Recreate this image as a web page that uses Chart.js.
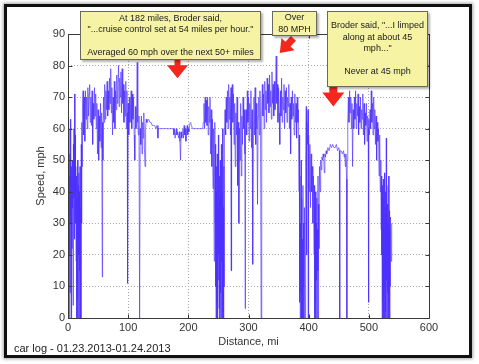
<!DOCTYPE html>
<html>
<head>
<meta charset="utf-8">
<title>car log</title>
<script src="https://cdn.jsdelivr.net/npm/chart.js@4.4.1/dist/chart.umd.min.js"></script>
<style>
  html, body { margin: 0; padding: 0; background: #fff; }
  body { width: 479px; height: 364px; position: relative; overflow: hidden; font-family: "Liberation Sans", Arial, sans-serif; }
  #frame { position: absolute; left: 4px; top: 4px; width: 462px; height: 348px; border: 3px solid #111; background: #fff; box-shadow: 0 0 3px 1px rgba(0,0,0,0.35); }
  #chart { position: absolute; left: 0; top: 0; }
  .note { position: absolute; box-sizing: border-box; background: #f6f4a4; border: 1px solid #6a6a5a; box-shadow: 2px 2px 2px rgba(0,0,0,0.3);
          font-size: 9px; line-height: 11.5px; color: #1a1a1a; text-align: center; white-space: nowrap;
          display: flex; align-items: center; justify-content: center; }
  #footer { position: absolute; left: 14px; top: 342px; font-size: 11px; line-height: 13px; color: #222; white-space: nowrap; }
</style>
</head>
<body>
<div id="frame"></div>
<canvas id="chart" width="479" height="364"></canvas>
<div class="note" style="left:80px; top:11px; width:181px; height:49px;">
  <div>At 182 miles, Broder said,<br>"...cruise control set at 54 miles per hour."<br>&nbsp;<br>Averaged 60 mph over the next 50+ miles</div>
</div>
<div class="note" style="left:272px; top:11px; width:45px; height:25px;">
  <div>Over<br>80 MPH</div>
</div>
<div class="note" style="left:327px; top:11px; width:101px; height:76px;">
  <div>Broder said, "...I limped<br>along at about 45<br>mph..."<br>&nbsp;<br>Never at 45 mph</div>
</div>
<div id="footer">car log - 01.23.2013-01.24.2013</div>

<script>
// distance (mi) and speed (mph)
const distanceMi = [
  0, 0.5, 1, 1.5, 2, 2.5, 3, 3.5, 4, 4.5,
  5, 5.5, 6, 6.5, 7, 7.5, 8, 8.5, 9, 9.5,
  10, 10.5, 11, 11.5, 12, 12.5, 13, 13.5, 14, 14.5,
  15, 15.5, 16, 16.5, 17, 17.5, 18, 18.5, 19, 19.5,
  20, 20.5, 21, 21.5, 22, 22.5, 23, 23.5, 24, 25,
  26, 27, 28, 29, 30, 31, 32, 33, 34, 35,
  36, 37, 38, 39, 40, 41, 42, 43, 44, 45,
  46, 47, 48, 49, 50, 51, 52, 53, 54, 55,
  56, 57, 57.5, 58, 59, 60, 61, 62, 63, 64,
  65, 66, 67, 68, 69, 70, 71, 72, 73, 74,
  75, 76, 77, 78, 79, 80, 81, 82, 83, 84,
  85, 86, 87, 88, 89, 90, 91, 92, 93, 94,
  95, 96, 97, 98, 98.5, 99, 100, 101, 102, 103,
  104, 105, 106, 107, 108, 109, 110, 111, 112, 113,
  114, 115, 116, 117, 118, 119, 120, 121, 122, 123,
  124, 125, 126, 127, 128, 129, 130, 131, 132, 133,
  134, 136, 138, 140, 142, 144, 146, 148, 149.5, 150,
  152, 155, 158, 161, 164, 167, 170, 173, 175, 176,
  177, 178, 180, 181, 182, 184, 185, 186, 187, 188,
  189, 190, 191, 192, 193, 194, 195, 196, 197, 198,
  199, 200, 201, 202, 203, 204, 205, 207, 210, 213,
  216, 219, 222, 224, 225, 226, 227, 228, 229, 230,
  231, 232, 233, 234, 235, 236, 237, 238, 239, 240,
  241, 242, 243, 244, 244.5, 245, 245.5, 246, 246.5, 247,
  247.5, 248, 248.5, 249, 249.5, 250, 250.5, 251, 251.5, 252,
  252.5, 253, 253.5, 254, 254.5, 255, 255.5, 256, 256.5, 257,
  257.5, 258, 258.5, 259, 259.5, 260, 261, 262, 263, 264,
  265, 266, 267, 268, 269, 270, 271, 271.5, 272, 273,
  274, 275, 276, 277, 278, 279, 280, 281, 282, 283,
  284, 285, 286, 287, 288, 289, 290, 291, 292, 293,
  294, 294.5, 295, 296, 297, 298, 299, 300, 301, 302,
  303, 304, 305, 306, 307, 308, 309, 310, 311, 312,
  313, 314, 315, 316, 317, 318, 319, 320, 321, 322,
  323, 324, 325, 326, 327, 328, 329, 330, 331, 332,
  333, 334, 335, 336, 337, 338, 339, 340, 341, 342,
  343, 344, 345, 346, 347, 348, 349, 350, 351, 352,
  353, 354, 355, 356, 357, 358, 359, 360, 361, 362,
  363, 364, 365, 366, 367, 368, 369, 370, 371, 372,
  373, 374, 375, 376, 377, 378, 379, 380, 381, 382,
  383, 384, 384.5, 385, 385.5, 386, 386.5, 387, 387.5, 388,
  388.5, 389, 389.5, 390, 390.5, 391, 391.5, 392, 393, 394,
  395, 396, 396.5, 397, 398, 399, 399.5, 400, 401, 402,
  403, 404, 405, 406, 407, 408, 409, 409.5, 410, 410.5,
  411, 411.5, 412, 412.5, 413, 413.5, 414, 414.5, 415, 415.5,
  416, 416.5, 417, 418, 419, 420, 421, 422, 423, 424,
  425, 426, 427, 428, 429, 430, 432, 434, 436, 438,
  440, 442, 444, 446, 448, 450, 451, 451.5, 452, 454,
  456, 458, 459, 460, 461, 462, 463, 463.5, 464, 465,
  466, 467, 468, 469, 470, 471, 472, 473, 474, 475,
  476, 477, 478, 479, 480, 481, 482, 483, 484, 485,
  486, 487, 488, 489, 490, 491, 492, 493, 494, 495,
  496, 497, 498, 499, 499.5, 500, 501, 502, 503, 504,
  505, 506, 507, 508, 509, 510, 511, 512, 513, 514,
  515, 516, 517, 518, 519, 520, 520.5, 521, 521.5, 522,
  522.5, 523, 523.5, 524, 524.5, 525, 525.5, 526, 526.5, 527,
  527.5, 528, 528.5, 529, 529.5, 530, 530.5, 531, 531.5, 532,
  532.5, 533, 533.5, 534, 534.5, 535, 535.5, 536, 537, 538
];
const speedMph = [
  68, 2, 60, 0, 45, 20, 52, 8, 63, 30,
  48, 0, 45, 22, 50, 35, 44, 4, 55, 38,
  60, 25, 71, 40, 58, 30, 48, 18, 45, 0,
  38, 6, 50, 0, 42, 20, 46, 0, 40, 15,
  48, 0, 35, 0, 55, 30, 62, 48, 66, 72,
  58, 70, 56, 72, 63, 70, 60, 73, 64, 71,
  74, 62, 70, 61, 72, 55, 68, 63, 73, 64,
  71, 60, 68, 52, 66, 50, 64, 56, 68, 54,
  65, 13, 62, 50, 70, 62, 74, 63, 72, 66,
  75, 64, 72, 66, 76, 68, 79, 65, 73, 58,
  70, 62, 75, 60, 72, 66, 77, 68, 74, 80,
  67, 76, 70, 78, 65, 79, 68, 74, 62, 72,
  64, 75, 60, 72, 65, 11, 68, 58, 70, 62,
  66, 72, 60, 71, 63, 70, 58, 50, 67, 60,
  64, 81, 62, 58, 64, 0, 60, 55, 64, 52,
  62, 57, 65, 54, 48, 60, 63, 62, 62, 63,
  63, 62, 62, 61, 61, 61, 60, 61, 57, 60,
  60, 60, 60, 60, 60, 60, 60, 60, 60, 58,
  60, 57, 60, 58, 59, 57, 59, 56, 50, 59,
  57, 58, 60, 57, 61, 58, 60, 56, 59, 61,
  58, 60, 59, 61, 62, 62, 61, 60, 60, 60,
  60, 60, 60, 60, 62, 68, 60, 70, 62, 69,
  61, 70, 58, 67, 62, 70, 52, 66, 48, 63,
  41, 60, 18, 62, 30, 55, 10, 48, 0, 40,
  5, 52, 0, 35, 12, 58, 20, 45, 3, 38,
  0, 50, 8, 42, 0, 55, 18, 40, 0, 60,
  2, 35, 0, 48, 10, 58, 66, 58, 70, 62,
  72, 60, 74, 63, 70, 58, 73, 15, 66, 74,
  62, 71, 55, 68, 48, 65, 58, 70, 42, 62,
  30, 60, 50, 68, 45, 64, 55, 70, 60, 66,
  52, 3, 60, 66, 58, 72, 62, 70, 56, 68,
  60, 72, 54, 66, 17, 62, 70, 58, 73, 55,
  68, 60, 36, 64, 70, 58, 72, 62, 0, 66,
  74, 64, 71, 60, 75, 66, 72, 62, 76, 68,
  74, 65, 77, 67, 72, 63, 78, 68, 74, 64,
  75, 66, 72, 83, 68, 74, 62, 73, 65, 55,
  72, 64, 76, 62, 70, 66, 74, 60, 72, 65,
  73, 62, 70, 67, 74, 60, 68, 52, 70, 63,
  72, 64, 68, 58, 71, 62, 68, 57, 70, 62,
  66, 40, 58, 5, 45, 0, 30, 8, 50, 0,
  38, 0, 25, 0, 42, 10, 30, 0, 35, 0,
  48, 67, 20, 62, 55, 66, 0, 58, 40, 55,
  35, 52, 40, 48, 30, 45, 20, 42, 0, 35,
  5, 40, 0, 30, 12, 38, 0, 28, 15, 45,
  0, 36, 22, 48, 40, 50, 47, 51, 50, 52,
  51, 46, 52, 51, 53, 52, 54, 53, 55, 54,
  55, 54, 54, 55, 53, 54, 53, 0, 53, 53,
  52, 53, 51, 52, 48, 52, 44, 0, 50, 62,
  70, 62, 72, 65, 70, 60, 68, 48, 66, 60,
  70, 63, 72, 60, 68, 64, 71, 58, 67, 62,
  70, 60, 66, 63, 71, 58, 68, 55, 65, 61,
  68, 56, 64, 60, 5, 63, 58, 66, 60, 72,
  62, 68, 58, 70, 60, 66, 55, 64, 50, 62,
  56, 60, 45, 58, 40, 50, 28, 45, 20, 42,
  0, 38, 5, 44, 0, 30, 10, 46, 0, 35,
  2, 40, 0, 57, 12, 42, 0, 36, 8, 30,
  0, 45, 5, 34, 0, 28, 10, 32, 18, 30
];
const xTickValues = [0, 100, 200, 300, 400, 500, 600];
const yTickValues = [0, 10, 20, 30, 40, 50, 60, 70, 80, 90];

// arrow callouts: where each red arrow points (data units)
const callouts = [
  { mi: 182, mph: 76, angle: 90,  len: 19, head: 13, headHalf: 10.5, shaftHalf: 3 },
  { mi: 352, mph: 84, angle: 133, len: 20, head: 12, headHalf: 9,    shaftHalf: 3.5 },
  { mi: 441, mph: 67, angle: 90,  len: 20, head: 14, headHalf: 11,   shaftHalf: 4 }
];

const points = distanceMi.map((d, i) => ({ x: d, y: speedMph[i] }));

function drawArrow(ctx, x, y, c) {
  ctx.save();
  ctx.translate(x, y);
  ctx.rotate(c.angle * Math.PI / 180);
  ctx.beginPath();
  ctx.moveTo(0, 0);
  ctx.lineTo(-c.head, -c.headHalf);
  ctx.lineTo(-c.head, -c.shaftHalf);
  ctx.lineTo(-c.len, -c.shaftHalf);
  ctx.lineTo(-c.len, c.shaftHalf);
  ctx.lineTo(-c.head, c.shaftHalf);
  ctx.lineTo(-c.head, c.headHalf);
  ctx.closePath();
  ctx.fillStyle = "#f4271f";
  ctx.fill();
  ctx.restore();
}

// matlab-like axes box with inward ticks, then the arrows
const axesBox = {
  id: "axesBox",
  afterDatasetsDraw(chart) {
    const { ctx, scales: { x, y } } = chart;
    const L = Math.round(x.getPixelForValue(0)) + 0.5;
    const R = Math.round(x.getPixelForValue(600)) + 0.5;
    const T = Math.round(y.getPixelForValue(90)) + 0.5;
    const B = Math.round(y.getPixelForValue(0)) + 0.5;
    ctx.save();
    ctx.strokeStyle = "#3a3a3a";
    ctx.lineWidth = 1;
    ctx.beginPath();
    ctx.rect(L, T, R - L, B - T);
    xTickValues.forEach(v => {
      const px = Math.round(x.getPixelForValue(v)) + 0.5;
      ctx.moveTo(px, B); ctx.lineTo(px, B - 4);
      ctx.moveTo(px, T); ctx.lineTo(px, T + 4);
    });
    yTickValues.forEach(v => {
      const py = Math.round(y.getPixelForValue(v)) + 0.5;
      ctx.moveTo(L, py); ctx.lineTo(L + 4, py);
      ctx.moveTo(R, py); ctx.lineTo(R - 4, py);
    });
    ctx.stroke();
    ctx.restore();
  },
  afterDraw(chart) {
    const { ctx, scales: { x, y } } = chart;
    callouts.forEach(c => drawArrow(ctx, x.getPixelForValue(c.mi), y.getPixelForValue(c.mph), c));
  }
};

const tickFont = { family: "'Liberation Sans', Arial, sans-serif", size: 11 };
const lineA = "rgba(78, 48, 255, 0.66)";
const lineB = "rgba(78, 49, 255, 0.66)";

new Chart(document.getElementById("chart").getContext("2d"), {
  type: "line",
  data: {
    datasets: [{
      data: points,
      borderColor: lineA,
      borderWidth: 1,
      pointRadius: 0,
      tension: 0,
      fill: false,
      // alternate (near-identical) colours so each piece is stroked on its own and overlaps darken
      segment: { borderColor: c => (c.p0DataIndex % 2 ? lineA : lineB) }
    }]
  },
  options: {
    responsive: false,
    animation: false,
    events: [],
    layout: { padding: { left: 0, top: 34, right: 50, bottom: 0 } },
    plugins: { legend: { display: false }, tooltip: { enabled: false } },
    scales: {
      x: {
        type: "linear",
        min: 0, max: 600,
        afterBuildTicks: s => { s.ticks = xTickValues.map(v => ({ value: v })); },
        afterFit: s => { s.height = 46; },
        grid: { color: "#a8a8a8", lineWidth: 1, drawTicks: false },
        border: { display: false, dash: [1, 2] },
        ticks: { color: "#333", font: tickFont, padding: 3, maxRotation: 0 },
        title: { display: true, text: "Distance, mi", color: "#333", font: tickFont, padding: { top: 0, bottom: 15 } }
      },
      y: {
        min: 0, max: 90,
        afterBuildTicks: s => { s.ticks = yTickValues.map(v => ({ value: v })); },
        afterFit: s => { s.width = 68; },
        grid: { color: "#a8a8a8", lineWidth: 1, drawTicks: false },
        border: { display: false, dash: [1, 2] },
        ticks: { color: "#333", font: tickFont, padding: 3 },
        title: { display: true, text: "Speed, mph", color: "#333", font: tickFont, padding: { top: 34, bottom: 0 } }
      }
    }
  },
  plugins: [axesBox]
});
</script>
</body>
</html>
